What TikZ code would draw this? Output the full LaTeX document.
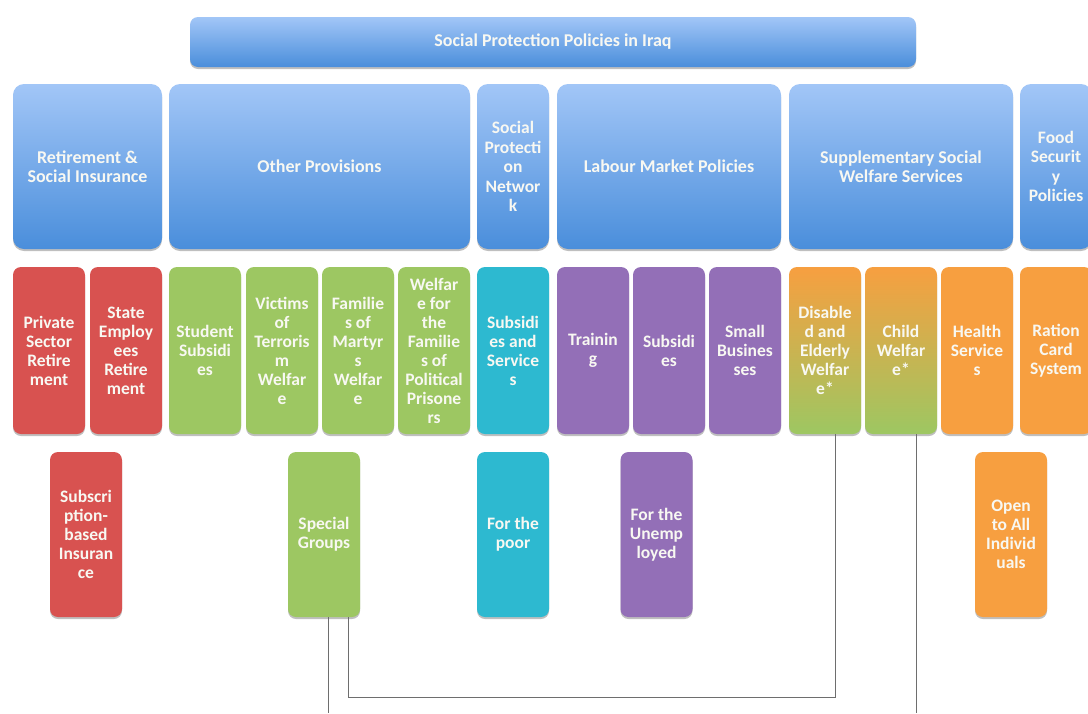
\documentclass[tikz,border=0pt]{standalone}
\usepackage{fontspec}
\setmainfont{Carlito}
\usetikzlibrary{shadows}
\definecolor{bluetop}{RGB}{162,198,247}
\definecolor{bluebot}{RGB}{74,142,219}
\definecolor{redc}{RGB}{216,82,80}
\definecolor{greenc}{RGB}{157,199,98}
\definecolor{tealc}{RGB}{45,185,208}
\definecolor{purplec}{RGB}{147,111,183}
\definecolor{orangec}{RGB}{247,159,64}
\definecolor{linec}{RGB}{110,110,110}
\definecolor{txtc}{RGB}{248,248,242}
\tikzset{
  base/.style={rounded corners=8pt, text=txtc, align=center, inner sep=0pt,
    font=\bfseries\fontsize{17.5}{19}\selectfont,
    drop shadow={shadow xshift=0pt, shadow yshift=-2pt, opacity=0.25, fill=black}},
  bluebox/.style={base, rounded corners=11pt, top color=bluetop, bottom color=bluebot,
    font=\bfseries\fontsize{18}{18.5}\selectfont},
  col/.style={base, minimum width=72pt, minimum height=167pt},
  low/.style={base, minimum width=72pt, minimum height=165pt},
  redbox/.style={fill=redc},
  greenbox/.style={fill=greenc},
  tealbox/.style={fill=tealc},
  purplebox/.style={fill=purplec},
  orangebox/.style={fill=orangec},
  mixbox/.style={top color=orangec, bottom color=greenc},
  conn/.style={draw=linec, line width=1pt}
}
\begin{document}
\begin{tikzpicture}[x=1pt,y=-1pt]
\useasboundingbox (0,0) rectangle (1088,713);
\clip (0,0) rectangle (1088,713);
\fill[white] (0,0) rectangle (1088,713);
% banner
\node[bluebox, rounded corners=8pt, minimum width=726pt, minimum height=50pt] (top) at (553,42) {Social Protection Policies in Iraq};
% second row
\node[bluebox, minimum width=149pt, minimum height=165pt] (ret) at (87.5,166.5) {Retirement \&\\Social Insurance};
\node[bluebox, minimum width=301pt, minimum height=165pt] (oth) at (319.5,166.5) {Other Provisions};
\node[bluebox, minimum width=72pt, minimum height=165pt, font=\bfseries\fontsize{17.5}{19.5}\selectfont] (spn) at (513,166.5) {Social\\Protecti\\on\\Networ\\k};
\node[bluebox, minimum width=224pt, minimum height=165pt] (lab) at (669,166.5) {Labour Market Policies};
\node[bluebox, minimum width=224pt, minimum height=165pt] (sup) at (901,166.5) {Supplementary Social\\Welfare Services};
\node[bluebox, minimum width=72pt, minimum height=165pt, font=\bfseries\fontsize{17.5}{19.5}\selectfont] (food) at (1056,166.5) {Food\\Securit\\y\\Policies};
% third row
\node[col, redbox] (psr) at (49,350.5) {Private\\Sector\\Retire\\ment};
\node[col, redbox] (ser) at (126,350.5) {State\\Employ\\ees\\Retire\\ment};
\node[col, greenbox] (stu) at (205,350.5) {Student\\Subsidi\\es};
\node[col, greenbox] (vic) at (282,350.5) {Victims\\of\\Terroris\\m\\Welfar\\e};
\node[col, greenbox] (fam) at (358,350.5) {Familie\\s of\\Martyr\\s\\Welfar\\e};
\node[col, greenbox] (pol) at (434,350.5) {Welfar\\e for\\the\\Familie\\s of\\Political\\Prisone\\rs};
\node[col, tealbox] (sas) at (513,350.5) {Subsidi\\es and\\Service\\s};
\node[col, purplebox] (tra) at (593,350.5) {Trainin\\g};
\node[col, purplebox] (sbs) at (669,350.5) {Subsidi\\es};
\node[col, purplebox] (sma) at (745,350.5) {Small\\Busines\\ses};
\node[col, mixbox] (dis) at (825,350.5) {Disable\\d and\\Elderly\\Welfar\\e*};
\node[col, mixbox] (cw) at (901,350.5) {Child\\Welfar\\e*};
\node[col, orangebox] (hs) at (977,350.5) {Health\\Service\\s};
\node[col, orangebox] (rcs) at (1056,350.5) {Ration\\Card\\System};
% fourth row
\node[low, redbox] (sub) at (86,534.5) {Subscri\\ption-\\based\\Insuran\\ce};
\node[low, greenbox] (sg) at (324,534.5) {Special\\Groups};
\node[low, tealbox] (poor) at (513,534.5) {For the\\poor};
\node[low, purplebox] (une) at (656.5,534.5) {For the\\Unemp\\loyed};
\node[low, orangebox] (open) at (1011,534.5) {Open\\to All\\Individ\\uals};
% connectors
\coordinate (b1) at (328,713);
\coordinate (b3) at (916,713);
\draw[conn] ([xshift=4pt]sg.south) -- (b1);
\draw[conn] ([xshift=24pt]sg.south) -- ++(0,80) -| ([xshift=10pt]dis.south);
\draw[conn] ([xshift=15pt]cw.south) -- (b3);
\end{tikzpicture}
\end{document}
